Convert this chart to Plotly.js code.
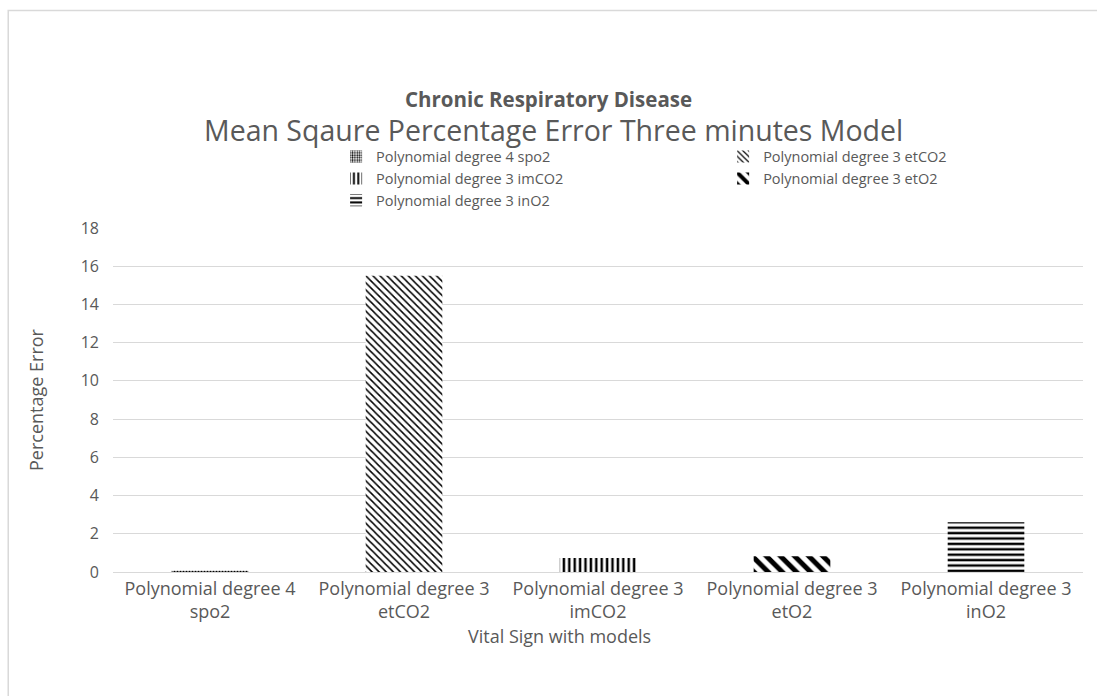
<!DOCTYPE html>
<html>
<head>
<meta charset="utf-8">
<script src="https://cdn.plot.ly/plotly-3.0.1.min.js"></script>
<style>
  body { margin: 0; background: #fff; }
  #chart { width: 1097px; height: 696px; }
</style>
</head>
<body>
<div id="chart"></div>
<script>
// categories / series
var categories = [
    "Polynomial degree 4<br>spo2",
    "Polynomial degree 3<br>etCO2",
    "Polynomial degree 3<br>imCO2",
    "Polynomial degree 3<br>etO2",
    "Polynomial degree 3<br>inO2"
];
var seriesNames = [
    "Polynomial degree 4 spo2",
    "Polynomial degree 3 etCO2",
    "Polynomial degree 3 imCO2",
    "Polynomial degree 3 etO2",
    "Polynomial degree 3 inO2"
];
var errorValues = [0.07, 15.5, 0.73, 0.82, 2.6];
var yTicks = [0, 2, 4, 6, 8, 10, 12, 14, 16, 18];
// legend column each entry goes to (Excel wraps the legend into two columns)
var legendColumn = ['legend', 'legend2', 'legend', 'legend2', 'legend'];

// hatch styles per bar
var patterns = [
    {shape: ".", size: 3, solidity: 0.45},
    {shape: "\\", size: 5, solidity: 0.3},
    {shape: "|", size: 5.4, solidity: 0.45},
    {shape: "\\", size: 10, solidity: 0.5},
    {shape: "-", size: 5.4, solidity: 0.45}
];

var textColor = "#595959";
var font = "'Open Sans', sans-serif";

var traces = [];
seriesNames.forEach((name, i) => {
    traces.push({
        x: [categories[i]],
        y: [errorValues[i]],
        name: name,
        type: 'bar',
        legend: legendColumn[i],
        marker: {
            color: '#ffffff',
            line: {width: 0},
            pattern: {
                shape: patterns[i].shape,
                size: patterns[i].size,
                solidity: patterns[i].solidity,
                fgcolor: '#000000',
                fgopacity: 1,
                bgcolor: '#ffffff',
                fillmode: 'overlay'
            }
        },
        hoverinfo: 'x+y'
    });
});

var legendStyle = {
    orientation: 'v',
    xanchor: 'left',
    y: 1.254,
    yanchor: 'top',
    traceorder: 'normal',
    itemwidth: 30,
    tracegroupgap: 0,
    bgcolor: 'rgba(0,0,0,0)',
    font: {size: 14.5, color: textColor}
};

Plotly.newPlot('chart', traces, {
    width: 1097,
    height: 696,
    autosize: false,
    paper_bgcolor: '#ffffff',
    plot_bgcolor: '#ffffff',
    font: {family: font, color: textColor, size: 18},
    title: {
        text: '<b>Chronic Respiratory Disease</b>',
        font: {size: 20.5, color: textColor},
        x: 0.5,
        xanchor: 'center',
        y: 0.857,
        yanchor: 'middle'
    },
    annotations: [{
        text: 'Mean Sqaure Percentage Error Three minutes Model',
        xref: 'paper', yref: 'paper',
        x: 0.454, y: 1.285,
        xanchor: 'center', yanchor: 'middle',
        showarrow: false,
        font: {size: 28.5, color: textColor}
    }, {
        // x axis title, Excel centres it on the chart area rather than the plot area
        text: 'Vital Sign with models',
        xref: 'paper', yref: 'paper',
        x: 0.46, y: -0.185,
        xanchor: 'center', yanchor: 'middle',
        showarrow: false,
        font: {size: 18, color: textColor}
    }],
    barmode: 'relative',
    bargap: 0.605,
    margin: {l: 113, r: 14, t: 228, b: 124, pad: 0},
    showlegend: true,
    legend: Object.assign({x: 0.23}, legendStyle),
    legend2: Object.assign({x: 0.629}, legendStyle),
    xaxis: {
        type: 'category',
        tickfont: {size: 18, color: textColor},
        showline: true,
        linecolor: '#d9d9d9',
        linewidth: 1,
        ticks: '',
        showgrid: false,
        fixedrange: true
    },
    yaxis: {
        title: {text: 'Percentage Error', font: {size: 18, color: textColor}, standoff: 32},
        range: [0, 18],
        tickvals: yTicks,
        tickfont: {size: 16, color: textColor},
        gridcolor: '#d9d9d9',
        gridwidth: 1,
        zeroline: false,
        showline: false,
        ticks: '',
        ticklabelstandoff: 13,
        fixedrange: true
    },
    shapes: [{
        type: 'rect',
        xref: 'paper', yref: 'paper',
        x0: -0.108, x1: 1.1,
        y0: -0.5, y1: 1.632,
        line: {color: '#d9d9d9', width: 1.5},
        fillcolor: 'rgba(0,0,0,0)',
        layer: 'below'
    }]
}, {displayModeBar: false, staticPlot: true});
</script>
</body>
</html>
